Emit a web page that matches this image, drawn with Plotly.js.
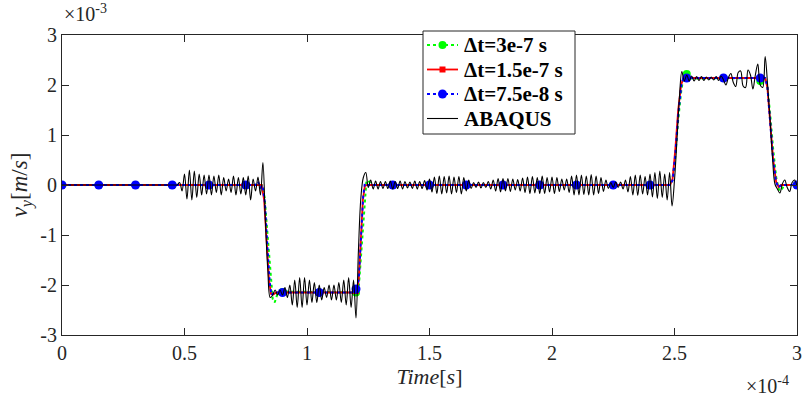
<!DOCTYPE html>
<html>
<head>
<meta charset="utf-8">
<script src="https://cdn.plot.ly/plotly-3.0.1.min.js"></script>
<style>html,body{margin:0;padding:0;background:#fff;}#chart{width:804px;height:401px;}</style>
</head>
<body>
<div id="chart"></div>
<script>
// Time in units of 1e-4 s, velocity in units of 1e-3 m/s (as shown by the axis multipliers)
const xTickVals = [0, 0.5, 1, 1.5, 2, 2.5, 3];
const xTickText = ["0", "0.5", "1", "1.5", "2", "2.5", "3"];
const yTickVals = [-3, -2, -1, 0, 1, 2, 3];
const yTickText = ["-3", "-2", "-1", "0", "1", "2", "3"];

const seriesNames = ["Δt=3e-7 s", "Δt=1.5e-7 s", "Δt=7.5e-8 s", "ABAQUS"];

// Δt = 3e-7 s (green)
const greenT = [0, 0.815, 0.827, 0.84, 0.852, 0.86, 0.868, 0.878, 0.89, 1.203, 1.212, 1.222, 1.232, 1.242, 1.25, 1.262, 2.478, 2.49, 2.502, 2.515, 2.528, 2.538, 2.548, 2.558, 2.57, 2.866, 2.877, 2.89, 2.903, 2.916, 2.928, 2.938, 2.95, 3.0];
const greenV = [0, 0, -0.25, -1.0, -1.85, -2.28, -2.35, -2.2, -2.13, -2.15, -2.0, -1.3, -0.45, 0.05, 0.1, 0, 0, 0.08, 0.5, 1.3, 1.9, 2.2, 2.27, 2.17, 2.13, 2.14, 2.05, 1.45, 0.7, 0.12, -0.12, -0.08, 0, 0];

// Δt = 1.5e-7 s (red)
const redT = [0, 0.815, 0.825, 0.835, 0.845, 0.853, 0.862, 0.875, 1.203, 1.211, 1.219, 1.228, 1.236, 1.245, 2.482, 2.492, 2.503, 2.515, 2.527, 2.537, 2.547, 2.87, 2.879, 2.891, 2.903, 2.915, 2.925, 2.935, 3.0];
const redV = [0, 0, -0.3, -1.15, -1.9, -2.18, -2.19, -2.15, -2.15, -1.9, -1.1, -0.3, -0.02, 0, 0, 0.12, 0.7, 1.5, 2.0, 2.15, 2.14, 2.14, 1.95, 1.25, 0.5, 0.06, -0.04, 0, 0];

// Δt = 7.5e-8 s (blue)
const blueT = [0, 0.79, 0.80, 0.81, 0.818, 0.828, 0.838, 0.848, 0.855, 0.862, 0.875, 1.203, 1.212, 1.22, 1.229, 1.236, 1.245, 2.482, 2.493, 2.504, 2.516, 2.528, 2.538, 2.548, 2.87, 2.879, 2.89, 2.902, 2.914, 2.924, 2.935, 3.0];
const blueV = [0, 0, 0.07, -0.05, 0, -0.35, -1.2, -1.95, -2.2, -2.17, -2.15, -2.15, -1.85, -1.05, -0.25, 0.03, 0, 0, 0.1, 0.65, 1.45, 2.0, 2.17, 2.14, 2.14, 1.97, 1.3, 0.55, 0.08, -0.05, 0, 0];

// marker positions (every 0.15e-4 s)
const markT = [0, 0.15, 0.3, 0.45, 0.6, 0.75, 0.9, 1.05, 1.2, 1.35, 1.5, 1.65, 1.8, 1.95, 2.1, 2.25, 2.4, 2.55, 2.7, 2.85, 3.0];
const greenMarkV = [0, 0, 0, 0, 0, 0, -2.14, -2.15, -2.15, 0, 0, 0, 0, 0, 0, 0, 0, 2.22, 2.14, 2.08, 0];
const redMarkV = [0, 0, 0, 0, 0, 0, -2.15, -2.15, -2.12, 0, 0, 0, 0, 0, 0, 0, 0, 2.14, 2.14, 2.14, 0];
const blueMarkV = [0, 0, 0, 0, 0, 0, -2.15, -2.15, -2.08, 0, 0, 0, 0, 0, 0, 0, 0, 2.14, 2.14, 2.14, 0];

// ABAQUS, sampled every 0.01e-4 s starting at 0
const abaqusStart = 0;
const abaqusStep = 0.01;
const abaqusV = [
  0, 0, 0, 0, 0, 0, 0, 0, 0, 0,
  0, 0, 0, 0, 0, 0, 0, 0, 0, 0,
  0, 0, 0, 0, 0, 0, 0, 0, 0, 0,
  0, 0, 0, 0, 0, 0, 0, 0, 0, 0,
  0, 0, 0, 0, 0, 0, 0, 0, 0.05, -0.12,
  0.22, -0.28, 0.3, -0.3, 0.28, -0.25, 0.22, -0.2, 0.2, -0.18,
  0.2, -0.2, 0.18, -0.15, 0.2, -0.2, 0.15, -0.12, 0.12, -0.15,
  0.18, -0.2, 0.15, -0.18, 0.15, -0.2, 0.18, -0.3, 0.12, -0.12,
  0.16, -0.2, 0.45, -0.7, -1.7, -2.25, -2.2, -2.1, -2.2, -2.1,
  -2.2, -2.05, -2.25, -2.0, -2.4, -1.9, -2.45, -1.85, -2.45, -1.85,
  -2.4, -1.9, -2.35, -1.95, -2.35, -2.0, -2.3, -2.05, -2.25, -2.0,
  -2.3, -2.0, -2.3, -1.95, -2.35, -1.9, -2.4, -1.85, -2.45, -1.9,
  -2.66, -1.3, -0.25, 0.15, 0.25, -0.05, 0.1, -0.08, 0.08, -0.08,
  0.07, -0.07, 0.07, -0.07, 0.08, -0.08, 0.07, -0.07, 0.08, -0.08,
  0.07, -0.06, 0.06, -0.07, 0.08, -0.08, 0.07, -0.07, 0.09, -0.1,
  0.12, -0.14, 0.16, -0.17, 0.18, -0.18, 0.17, -0.16, 0.18, -0.18,
  0.16, -0.15, 0.17, -0.18, 0.15, -0.12, 0.1, -0.07, 0.05, -0.05,
  0.06, -0.06, 0.05, -0.05, 0.07, -0.08, 0.1, -0.12, 0.13, -0.14,
  0.13, -0.12, 0.13, -0.13, 0.12, -0.1, 0.11, -0.12, 0.14, -0.15,
  0.16, -0.17, 0.17, -0.16, 0.15, -0.17, 0.18, -0.17, 0.15, -0.14,
  0.16, -0.17, 0.15, -0.13, 0.12, -0.1, 0.12, -0.15, 0.18, -0.2,
  0.2, -0.2, 0.2, -0.19, 0.18, -0.2, 0.21, -0.2, 0.18, -0.17,
  0.15, -0.13, 0.1, -0.07, 0.05, -0.05, 0.06, -0.05, 0.06, -0.08,
  0.1, -0.14, 0.17, -0.2, 0.2, -0.21, 0.2, -0.18, 0.17, -0.2,
  0.22, -0.24, 0.25, -0.27, 0.28, -0.25, 0.22, -0.3, 0.25, -0.42,
  0.1, 0.9, 1.75, 2.27, 2.08, 2.2, 2.08, 2.18, 2.08, 2.17,
  2.09, 2.17, 2.09, 2.16, 2.1, 2.16, 2.1, 2.17, 2.09, 2.18,
  2.1, 2.0, 2.15, 2.23, 2.05, 1.97, 2.25, 2.28, 1.98, 1.95,
  2.3, 2.2, 1.92, 2.2, 2.42, 2.0, 1.95, 2.57, 2.0, 1.3,
  0.55, 0.02, -0.08, -0.16, 0.02, 0.1, -0.05, -0.13, 0.05, 0.1,
  -0.02
];
const abaqusT = abaqusV.map((_, i) => abaqusStart + i * abaqusStep);

const GREEN = '#00FF00', RED = '#FF0000', BLUE = '#0000FF', BLACK = '#000000';
const FONT = 'Liberation Serif';
const AXC = '#262626';

// series styles
const styles = [
  {line: {color: GREEN, width: 2, dash: 'dot'}, marker: {color: GREEN, size: 8, symbol: 'circle'}},
  {line: {color: RED, width: 1.8, dash: 'solid'}, marker: {color: RED, size: 6, symbol: 'square'}},
  {line: {color: BLUE, width: 2, dash: 'dot'}, marker: {color: BLUE, size: 9, symbol: 'circle'}},
  {line: {color: BLACK, width: 1.1, dash: 'solid'}, marker: null}
];

const traces = [
  {x: greenT, y: greenV, mode: 'lines', line: styles[0].line, showlegend: false},
  {x: markT, y: greenMarkV, mode: 'markers', marker: styles[0].marker, showlegend: false},
  {x: redT, y: redV, mode: 'lines', line: styles[1].line, showlegend: false},
  {x: markT, y: redMarkV, mode: 'markers', marker: styles[1].marker, showlegend: false},
  {x: blueT, y: blueV, mode: 'lines', line: styles[2].line, showlegend: false},
  {x: markT, y: blueMarkV, mode: 'markers', marker: styles[2].marker, showlegend: false},
  {x: abaqusT, y: abaqusV, mode: 'lines', line: {color: BLACK, width: 1.1, shape: 'spline', smoothing: 1}, showlegend: false}
];

// --- manual legend (MATLAB-style compact box), pixel layout converted to paper coords
const PL = 62, PT = 35, PW = 735, PH = 300;
const px2x = p => (p - PL) / PW;
const py2y = p => (PT + PH - p) / PH;
const legBox = {x0: 423, y0: 31, x1: 575, y1: 134};
const rowY = [45, 69.5, 94, 118.5];
const sampleX0 = 427, sampleX1 = 458, textX = 462;

const shapes = [{
  type: 'rect', xref: 'paper', yref: 'paper',
  x0: px2x(legBox.x0), x1: px2x(legBox.x1), y0: py2y(legBox.y1), y1: py2y(legBox.y0),
  fillcolor: '#ffffff', line: {color: AXC, width: 1}, layer: 'above'
}];
const annotations = [];
seriesNames.forEach((name, k) => {
  const st = styles[k];
  shapes.push({type: 'line', xref: 'paper', yref: 'paper', layer: 'above',
    x0: px2x(sampleX0), x1: px2x(sampleX1), y0: py2y(rowY[k]), y1: py2y(rowY[k]),
    line: {color: st.line.color, width: st.line.width, dash: st.line.dash}});
  if (st.marker) {
    const r = st.marker.size / 2, cx = (sampleX0 + sampleX1) / 2, cy = rowY[k];
    shapes.push({type: st.marker.symbol === 'square' ? 'rect' : 'circle', xref: 'paper', yref: 'paper', layer: 'above',
      x0: px2x(cx - r), x1: px2x(cx + r), y0: py2y(cy + r), y1: py2y(cy - r),
      fillcolor: st.marker.color, line: {color: st.marker.color, width: 0}});
  }
  annotations.push({xref: 'paper', yref: 'paper', x: px2x(textX), y: py2y(rowY[k]),
    xanchor: 'left', yanchor: 'middle', showarrow: false,
    text: '<b>' + name + '</b>', font: {family: FONT, size: 21, color: '#000000'}});
});

annotations.push(
  {xref: 'paper', yref: 'paper', x: 0, y: 1, xanchor: 'left', yanchor: 'bottom', yshift: 8, showarrow: false,
   text: '×10<sup>-3</sup>', font: {family: FONT, size: 20, color: AXC}},
  {xref: 'paper', yref: 'paper', x: 1, y: 0, xanchor: 'right', yanchor: 'top', xshift: -6, yshift: -36, showarrow: false,
   text: '×10<sup>-4</sup>', font: {family: FONT, size: 20, color: AXC}}
);

const layout = {
  width: 804, height: 401,
  margin: {l: PL, r: 804 - PL - PW, t: PT, b: 401 - PT - PH},
  paper_bgcolor: '#ffffff', plot_bgcolor: '#ffffff',
  font: {family: FONT, size: 20, color: AXC},
  showlegend: false,
  xaxis: {
    range: [0, 3], tickvals: xTickVals, ticktext: xTickText,
    ticks: 'inside', ticklen: 7, tickcolor: AXC, tickwidth: 1,
    showline: true, linecolor: AXC, linewidth: 1, mirror: 'ticks',
    showgrid: false, zeroline: false,
    tickfont: {family: FONT, size: 20, color: AXC},
    title: {text: '<i>Time</i>[<i>s</i>]', font: {family: FONT, size: 22, color: AXC}, standoff: 4}
  },
  yaxis: {
    range: [-3, 3], tickvals: yTickVals, ticktext: yTickText,
    ticks: 'inside', ticklen: 7, tickcolor: AXC, tickwidth: 1,
    showline: true, linecolor: AXC, linewidth: 1, mirror: 'ticks',
    showgrid: false, zeroline: false,
    tickfont: {family: FONT, size: 20, color: AXC},
    title: {text: '<i>v<sub>y</sub></i>[<i>m</i>/<i>s</i>]', font: {family: FONT, size: 23, color: AXC}, standoff: 6}
  },
  shapes: shapes,
  annotations: annotations,
  hovermode: false
};

Plotly.newPlot('chart', traces, layout, {staticPlot: true, displayModeBar: false});
</script>
</body>
</html>
